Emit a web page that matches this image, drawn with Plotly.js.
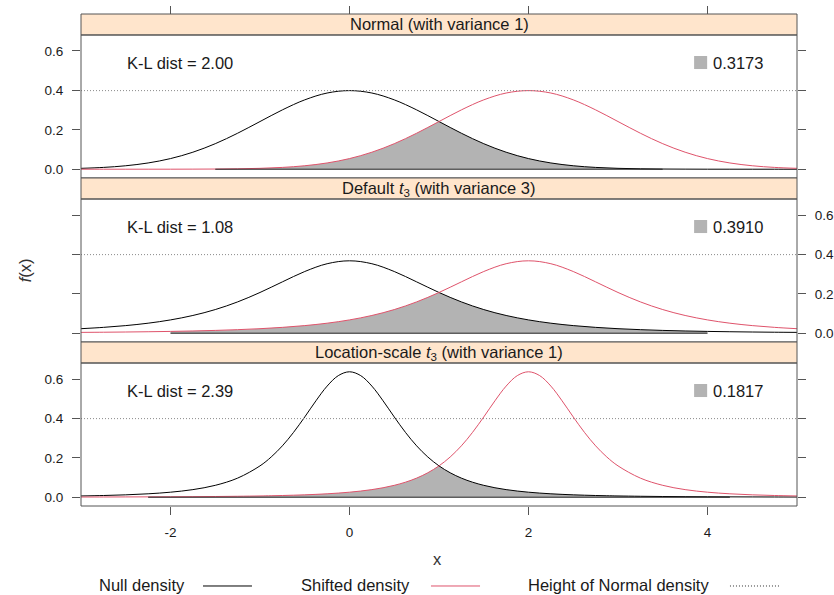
<!DOCTYPE html>
<html>
<head>
<meta charset="utf-8">
<script src="https://cdn.plot.ly/plotly-3.0.1.min.js"></script>
<style>html,body{margin:0;padding:0;background:#fff;}#chart{width:834px;height:595px;}</style>
</head>
<body>
<div id="chart"></div>
<script>
// ---- data ----
const xs = [-3,-2.75,-2.5,-2.25,-2,-1.75,-1.5,-1.25,-1,-0.75,-0.5,-0.25,0,0.25,0.5,0.75,1,1.25,1.5,1.75,2,2.25,2.5,2.75,3,3.25,3.5,3.75,4,4.25,4.5,4.75,5];

const nullNormal = [0.00443,0.00909,0.01753,0.03174,0.05399,0.08628,0.12952,0.18265,0.24197,0.30114,0.35207,0.38667,0.39894,0.38667,0.35207,0.30114,0.24197,0.18265,0.12952,0.08628,0.05399,0.03174,0.01753,0.00909,0.00443,0.00203,0.00087,0.00035,0.00013,0.00005,0.00002,0.00001,0.00000];
const shiftNormal = [0.0000015,0.000005,0.000016,0.000047,0.000134,0.000353,0.000873,0.00203,0.00443,0.00909,0.01753,0.03174,0.05399,0.08628,0.12952,0.18265,0.24197,0.30114,0.35207,0.38667,0.39894,0.38667,0.35207,0.30114,0.24197,0.18265,0.12952,0.08628,0.05399,0.03174,0.01753,0.00909,0.00443];

const nullT3 = [0.02297,0.02965,0.03866,0.05089,0.06751,0.09000,0.12002,0.15891,0.20675,0.26064,0.31318,0.35270,0.36755,0.35270,0.31318,0.26064,0.20675,0.15891,0.12002,0.09000,0.06751,0.05089,0.03866,0.02965,0.02297,0.01798,0.01422,0.01136,0.00916,0.00746,0.00612,0.00506,0.00422];
const shiftT3 = [0.00422,0.00506,0.00612,0.00746,0.00916,0.01136,0.01422,0.01798,0.02297,0.02965,0.03866,0.05089,0.06751,0.09000,0.12002,0.15891,0.20675,0.26064,0.31318,0.35270,0.36755,0.35270,0.31318,0.26064,0.20675,0.15891,0.12002,0.09000,0.06751,0.05089,0.03866,0.02965,0.02297];

// location-scale t3 panel: finer sampling around the sharp peaks
const lsX = [-3,-2.75,-2.5,-2.25,-2,-1.75,-1.5,-1.25,-1,-0.875,-0.75,-0.625,-0.5,-0.375,-0.25,-0.125,0,0.125,0.25,0.375,0.5,0.625,0.75,0.875,1,1.125,1.25,1.375,1.5,1.625,1.75,1.875,2,2.125,2.25,2.375,2.5,2.625,2.75,2.875,3,3.25,3.5,3.75,4,4.25,4.5,4.75,5];
const nullLS = [0.00637,0.00868,0.01211,0.01732,0.02546,0.03857,0.06027,0.09695,0.15915,0.20422,0.26076,0.32920,0.40744,0.48932,0.56393,0.61718,0.63662,0.61718,0.56393,0.48932,0.40744,0.32920,0.26076,0.20422,0.15915,0.12402,0.09695,0.07619,0.06027,0.04803,0.03857,0.03122,0.02546,0.02093,0.01732,0.01444,0.01211,0.01022,0.00868,0.00742,0.00637,0.00476,0.00363,0.00281,0.00220,0.00175,0.00141,0.00115,0.00094];
const shiftLS = [0.00094,0.00115,0.00141,0.00175,0.00220,0.00281,0.00363,0.00476,0.00637,0.00742,0.00868,0.01022,0.01211,0.01444,0.01732,0.02093,0.02546,0.03122,0.03857,0.04803,0.06027,0.07619,0.09695,0.12402,0.15915,0.20422,0.26076,0.32920,0.40744,0.48932,0.56393,0.61718,0.63662,0.61718,0.56393,0.48932,0.40744,0.32920,0.26076,0.20422,0.15915,0.09695,0.06027,0.03857,0.02546,0.01732,0.01211,0.00868,0.00637];

const panelTitles = ['Normal (with variance 1)', 'Default <i>t</i><sub>3</sub> (with variance 3)', 'Location-scale <i>t</i><sub>3</sub> (with variance 1)'];
const klDist = ['2.00', '1.08', '2.39'];
const overlapArea = ['0.3173', '0.3910', '0.1817'];
const overlapFrom = [-1.5, -2, -2.25];
const overlapTo = [3.5, 4, 4.25];
const normalHeight = 0.3989;
const xTicks = [-2, 0, 2, 4];
const xTickText = ['-2', '0', '2', '4'];
const yTicks = [0, 0.2, 0.4, 0.6];
const yTickText = ['0.0', '0.2', '0.4', '0.6'];
const legendLabels = ['Null density', 'Shifted density', 'Height of Normal density'];

// ---- styling / layout ----
const FONT = 'Liberation Sans, Arial, sans-serif';
const TXT = '#1a1a1a';
const RED = '#DF536B', GREY = '#B3B3B3', FRAME = '#555555', STRIP = '#FFE5CC';
const panelX = [xs, xs, lsX];
const nulls = [nullNormal, nullT3, nullLS];
const shifts = [shiftNormal, shiftT3, shiftLS];
const xaxesOf = ['x2', 'x3', 'x'];
const yaxesOf = ['y', 'y2', 'y3'];
const plotDom = [[0.66667, 0.95732], [0.33333, 0.62398], [0, 0.29065]];
const stripDom = [[0.95732, 1], [0.62398, 0.66667], [0.29065, 0.33333]];

const traces = [];
const shapes = [];
const annotations = [];

for (let p = 0; p < 3; p++) {
  const xa = xaxesOf[p], ya = yaxesOf[p];
  const px = panelX[p], nv = nulls[p], sv = shifts[p];
  // overlap region: min of the two densities, split at the crossing
  const leftX = [], leftY = [], rightX = [], rightY = [];
  for (let i = 0; i < px.length; i++) {
    if (px[i] < overlapFrom[p] - 1e-9 || px[i] > overlapTo[p] + 1e-9) continue;
    const m = Math.min(nv[i], sv[i]);
    if (sv[i] <= nv[i]) { leftX.push(px[i]); leftY.push(m); }
    if (nv[i] <= sv[i]) { rightX.push(px[i]); rightY.push(m); }
  }
  traces.push({x: leftX, y: leftY, xaxis: xa, yaxis: ya, mode: 'lines', line: {width: 0, shape: 'spline', color: GREY}, fill: 'tozeroy', fillcolor: GREY, hoverinfo: 'skip', showlegend: false});
  traces.push({x: rightX, y: rightY, xaxis: xa, yaxis: ya, mode: 'lines', line: {width: 0, shape: 'spline', color: GREY}, fill: 'tozeroy', fillcolor: GREY, hoverinfo: 'skip', showlegend: false});
  // curves
  traces.push({x: px, y: nv, xaxis: xa, yaxis: ya, mode: 'lines', line: {color: '#000', width: 1, shape: 'spline'}, showlegend: false, name: legendLabels[0]});
  traces.push({x: px, y: sv, xaxis: xa, yaxis: ya, mode: 'lines', line: {color: RED, width: 1, shape: 'spline'}, showlegend: false, name: legendLabels[1]});
  traces.push({x: [px[0], px[px.length - 1]], y: [normalHeight, normalHeight], xaxis: xa, yaxis: ya, mode: 'lines', line: {color: '#8a8a8a', width: 1, dash: '1px,2px'}, showlegend: false, name: legendLabels[2]});

  // overlap polygon bottom edge
  shapes.push({type: 'line', xref: xa, yref: ya, x0: overlapFrom[p], x1: overlapTo[p], y0: 0, y1: 0, line: {color: '#222', width: 1}, layer: 'above'});
  // strip
  shapes.push({type: 'rect', xref: 'paper', yref: 'paper', x0: 0, x1: 1, y0: stripDom[p][0], y1: stripDom[p][1], fillcolor: STRIP, line: {color: FRAME, width: 1}, layer: 'above'});
  // panel frame
  shapes.push({type: 'rect', xref: 'paper', yref: 'paper', x0: 0, x1: 1, y0: plotDom[p][0], y1: plotDom[p][1], line: {color: FRAME, width: 1}, layer: 'above'});
  // key square
  shapes.push({type: 'rect', xref: xa + ' domain', yref: ya + ' domain', x0: 0.8563, x1: 0.8745, y0: 0.762, y1: 0.853, fillcolor: GREY, line: {width: 0}, layer: 'above'});

  annotations.push({xref: 'paper', yref: 'paper', x: 0.5, y: (stripDom[p][0] + stripDom[p][1]) / 2, text: panelTitles[p], showarrow: false, xanchor: 'center', yanchor: 'middle', font: {family: FONT, size: 16.5, color: TXT}});
  annotations.push({xref: xa + ' domain', yref: ya + ' domain', x: 0.0615, y: 0.806, text: 'K-L dist = ' + klDist[p], showarrow: false, xanchor: 'left', yanchor: 'middle', font: {family: FONT, size: 16.5, color: TXT}});
  annotations.push({xref: xa + ' domain', yref: ya + ' domain', x: 0.880, y: 0.806, text: overlapArea[p], showarrow: false, xanchor: 'left', yanchor: 'middle', font: {family: FONT, size: 16.5, color: TXT}});
}

// axis labels
annotations.push({xref: 'paper', yref: 'paper', x: 0.4986, y: -0.1077, text: 'x', showarrow: false, xanchor: 'center', yanchor: 'middle', font: {family: FONT, size: 16.5, color: '#333'}});
annotations.push({xref: 'paper', yref: 'paper', x: -0.0782, y: 0.479, text: '<i>f</i>(x)', textangle: -90, showarrow: false, xanchor: 'center', yanchor: 'middle', font: {family: FONT, size: 16.5, color: '#333'}});

// legend (text then line sample, as in the reference)
const legTextX = [0.0251, 0.3073, 0.6243];
const legLineX = [[0.1704, 0.2388], [0.4888, 0.5573], [0.9064, 0.9763]];
const legStyle = [{color: '#000', width: 1}, {color: RED, width: 1}, {color: '#333', width: 1, dash: '1px,2px'}];
const legY = -0.1626;
for (let k = 0; k < 3; k++) {
  annotations.push({xref: 'paper', yref: 'paper', x: legTextX[k], y: legY + 0.002, text: legendLabels[k], showarrow: false, xanchor: 'left', yanchor: 'middle', xshift: -2, font: {family: FONT, size: 16.5, color: TXT}});
  shapes.push({type: 'line', xref: 'paper', yref: 'paper', x0: legLineX[k][0], x1: legLineX[k][1], y0: legY, y1: legY, line: legStyle[k]});
}

const yBase = {range: [-0.0446, 0.6812], tickvals: yTicks, ticktext: yTickText, ticks: 'outside', ticklen: 8, tickcolor: FRAME, tickwidth: 1, mirror: 'ticks', showline: false, showgrid: false, zeroline: false, fixedrange: true, tickfont: {family: FONT, size: 13.5, color: TXT}, ticklabelstandoff: 6};
const xBase = {range: [-3, 5], tickvals: xTicks, ticktext: xTickText, ticks: 'outside', ticklen: 8, tickcolor: FRAME, tickwidth: 1, showline: false, showgrid: false, zeroline: false, fixedrange: true, tickfont: {family: FONT, size: 13.5, color: TXT}};

const layout = {
  width: 834, height: 595,
  margin: {l: 81, r: 37, t: 14, b: 89, pad: 0},
  paper_bgcolor: '#fff', plot_bgcolor: '#fff',
  showlegend: false,
  font: {family: FONT, color: TXT},
  xaxis: Object.assign({}, xBase, {domain: [0, 1], anchor: 'y3', ticklabelstandoff: 6}),
  xaxis2: Object.assign({}, xBase, {domain: [0, 1], anchor: 'free', position: 1, side: 'top', showticklabels: false}),
  xaxis3: Object.assign({}, xBase, {domain: [0, 1], anchor: 'y2', ticks: '', showticklabels: false}),
  yaxis: Object.assign({}, yBase, {domain: plotDom[0], anchor: 'x2', side: 'left'}),
  yaxis2: Object.assign({}, yBase, {domain: plotDom[1], anchor: 'x3', side: 'right'}),
  yaxis3: Object.assign({}, yBase, {domain: plotDom[2], anchor: 'x', side: 'left'}),
  shapes: shapes,
  annotations: annotations
};

Plotly.newPlot('chart', traces, layout, {staticPlot: true, displayModeBar: false});
</script>
</body>
</html>
